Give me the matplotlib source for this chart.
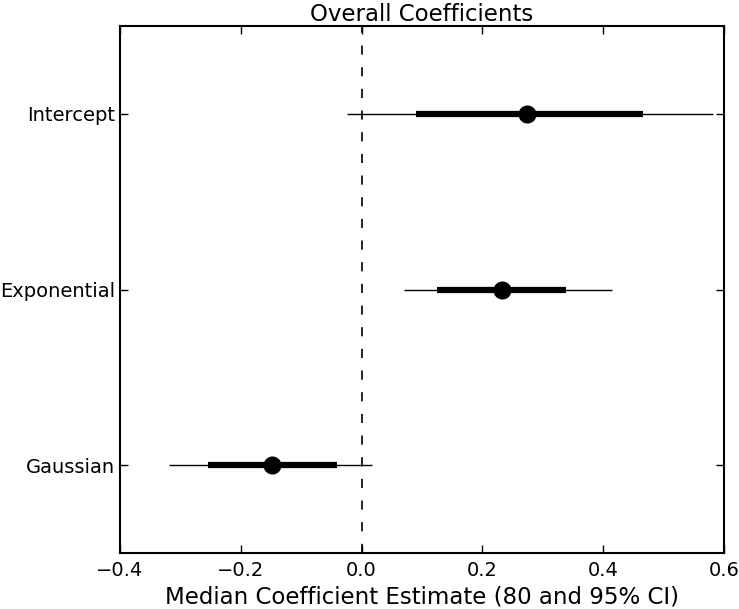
import numpy as np
import matplotlib
matplotlib.use('Agg')
import matplotlib.pyplot as plt

# coefficient summaries (median, 80% CI, 95% CI)
names = ['Gaussian', 'Exponential', 'Intercept']
median = [-0.148, 0.232, 0.274]
lo80 = [-0.254, 0.125, 0.090]
hi80 = [-0.041, 0.338, 0.466]
lo95 = [-0.319, 0.070, -0.024]
hi95 = [0.017, 0.415, 0.582]

fig = plt.figure(figsize=(7.39, 6.09), dpi=100)
ax = fig.add_axes([0.162, 0.092, 0.818, 0.865])

ypos = np.arange(len(names))
ax.hlines(ypos, lo95, hi95, color='black', lw=1)
ax.hlines(ypos, lo80, hi80, color='black', lw=4.5)
ax.plot(median, ypos, 'o', color='black', ms=12)
ax.axvline(0, color='black', ls=(0, (5.5, 7.5)), lw=1.2)

ax.set_xlim(-0.4, 0.6)
ax.set_ylim(-0.5, 2.5)
ax.set_yticks(ypos)
ax.set_yticklabels(names, fontsize=14)
ax.set_xticks([-0.4, -0.2, 0.0, 0.2, 0.4, 0.6])
ax.tick_params(axis='x', labelsize=14, pad=6)
ax.tick_params(axis='y', pad=3.5)
ax.tick_params(direction='in', top=True, right=True, length=6, width=1)
for sp in ax.spines.values():
    sp.set_linewidth(1.5)

ax.set_xlabel('Median Coefficient Estimate (80 and 95% CI)', fontsize=16.5)
ax.set_title('Overall Coefficients', fontsize=16.5, pad=4)

fig.savefig('out.png', dpi=100)
